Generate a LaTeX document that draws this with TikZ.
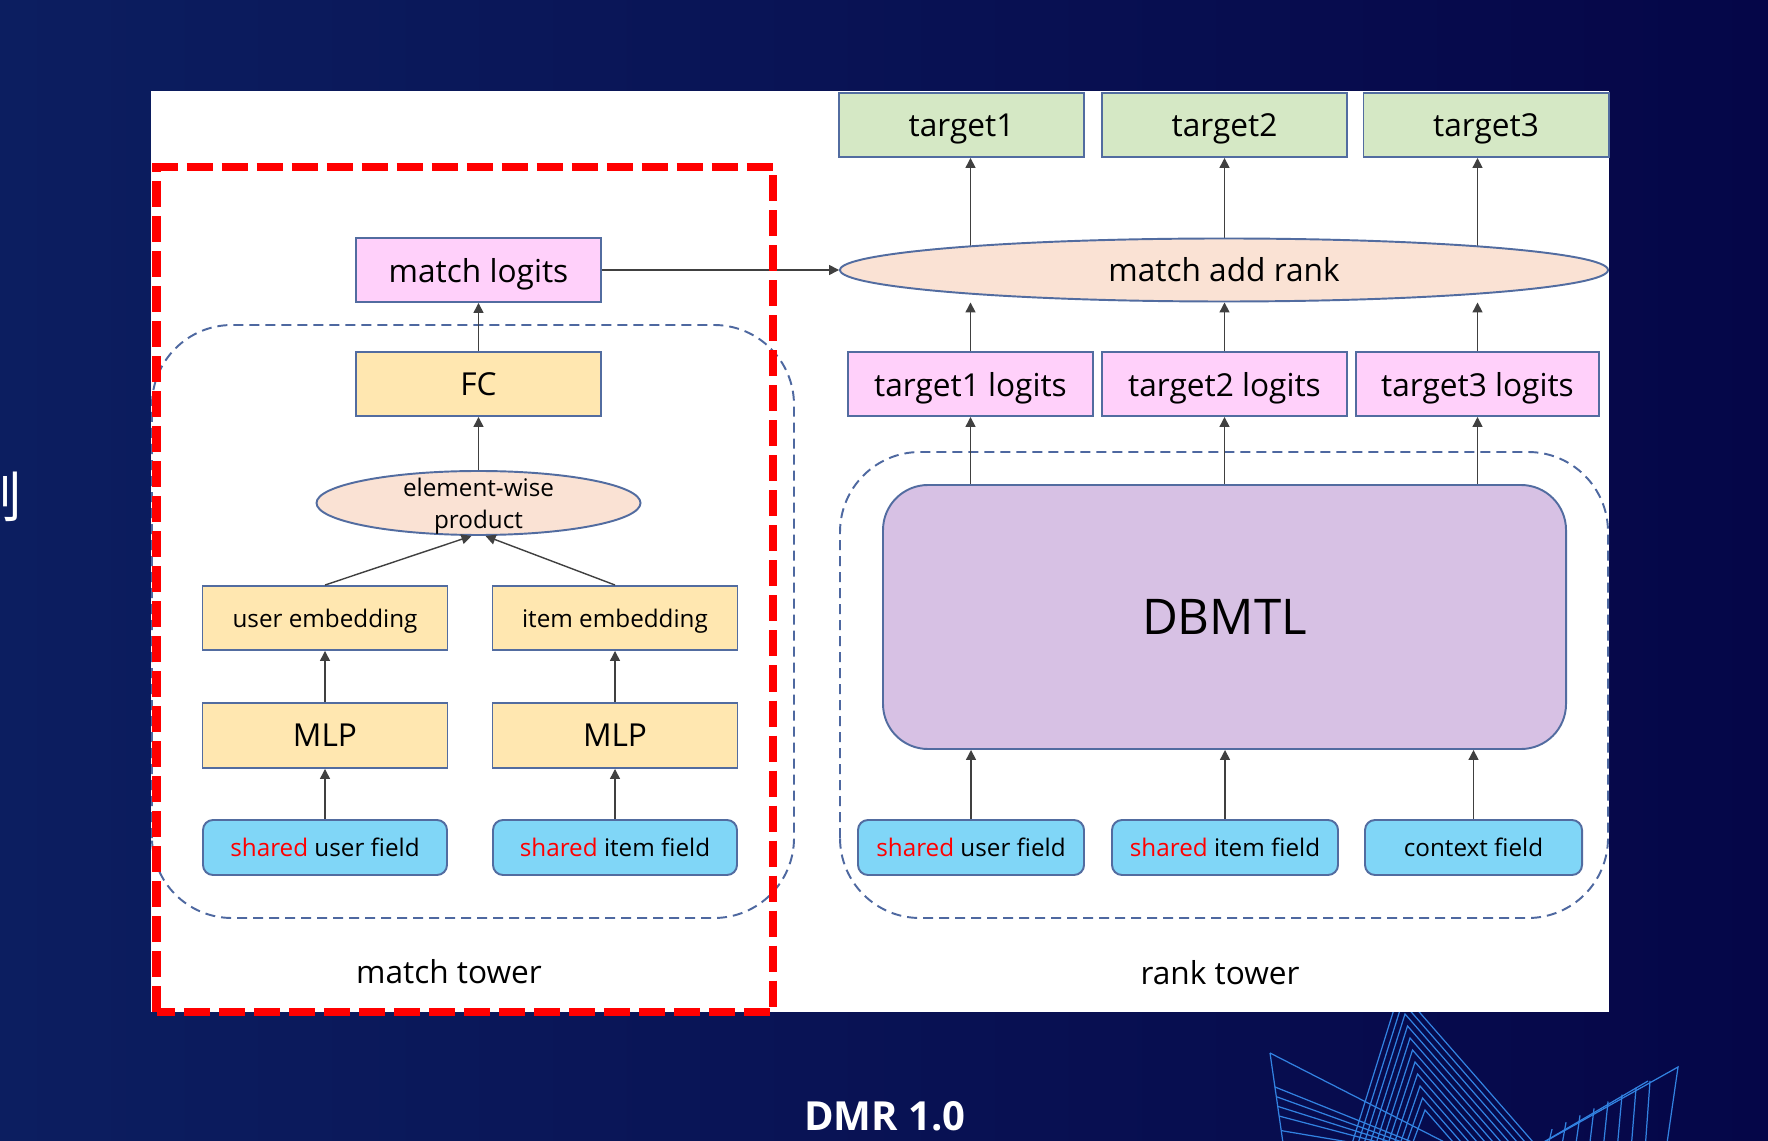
\documentclass[tikz,border=0pt]{standalone}
\usepackage{fontspec}
\setmainfont{Open Sans}
\newfontfamily\cjkfont{Noto Sans CJK SC}
\usepackage{xcolor}
\usetikzlibrary{arrows.meta,positioning,shapes.geometric,backgrounds}

\definecolor{edge}{RGB}{82,108,160}
\definecolor{pinkfill}{RGB}{255,208,250}
\definecolor{yellowfill}{RGB}{255,231,176}
\definecolor{peach}{RGB}{250,226,212}
\definecolor{greenfill}{RGB}{213,232,197}
\definecolor{bluefill}{RGB}{128,214,247}
\definecolor{lavender}{RGB}{215,193,228}
\definecolor{dashblue}{RGB}{78,104,160}
\definecolor{deco}{RGB}{50,130,225}
\definecolor{bgleft}{RGB}{12,30,96}
\definecolor{bgright}{RGB}{5,6,72}

\begin{document}
\begin{tikzpicture}[
  x=1cm,y=1cm,
  box/.style={draw=edge, line width=0.55pt, align=center, inner sep=0pt, text depth=0pt, minimum width=24.5mm, minimum height=6.4mm, font=\fontsize{9}{11}\selectfont},
  logit/.style={box, fill=pinkfill},
  dense/.style={box, fill=yellowfill},
  goal/.style={box, fill=greenfill},
  field/.style={box, fill=bluefill, rounded corners=1mm, minimum width=24.4mm, minimum height=5.5mm, font=\fontsize{6.9}{8}\selectfont},
  merge/.style={ellipse, draw=edge, line width=0.55pt, fill=peach, inner sep=0pt, minimum height=6.4mm, font=\fontsize{9}{11}\selectfont},
  tower/.style={draw=dashblue, line width=0.55pt, dash pattern=on 1mm off 0.6mm, rounded corners=8mm},
  matchframe/.style={draw=red, line width=2.3pt, dash pattern=on 2.6mm off 0.9mm},
  arrow/.style={-{Triangle[length=1mm,width=1mm]}, line width=0.4pt, draw=black!75},
  caption/.style={font=\fontsize{9}{11}\selectfont},
  decoline/.style={draw=deco, line width=0.35pt}
]
\useasboundingbox (0,0) rectangle (17.68,11.40);
\begin{scope}[on background layer]
  \fill[left color=bgleft, right color=bgright] (0,0) rectangle (17.68,11.40);
  % corner lines
  \foreach \k in {0,...,10}
    \draw[decoline] ({13.50+0.06*\k},-0.10) -- ({14.00+0.025*\k},{1.50-0.12*\k}) -- ({15.40-0.08*\k},-0.10);
  \draw[decoline] (12.84,-0.10) -- (12.70,0.87);
  \foreach \t in {0,0.35,0.45,0.55,0.65,0.8}
    \draw[decoline] ({12.70+0.14*\t},{0.87-0.97*\t}) -- ({14.60-0.8*\t},-0.10);
  \draw[decoline] (16.66,-0.10) -- (16.78,0.73) -- (15.30,-0.10);
  \draw[decoline] (16.48,0.59) -- (15.30,-0.10);
  \foreach \k in {0,...,7}
    \draw[decoline] ({16.50-0.14*\k},{0.73-(0.28+0.14*\k)*0.493}) -- ({16.45-0.14*\k},-0.10);
  \fill[white] (1.51,1.28) rectangle (16.09,10.49);
  \draw[tower] (1.52,2.22) rectangle (7.94,8.15);
  \draw[tower] (8.40,2.22) rectangle (16.08,6.88);
\end{scope}

% match tower
\node[field] (ufield) at (3.25,2.925) {\textcolor{red}{shared} user field};
\node[field] (ifield) at (6.15,2.925) {\textcolor{red}{shared} item field};
\node[dense, minimum height=6.5mm] (umlp) at (3.25,4.045) {MLP};
\node[dense, minimum height=6.5mm] (imlp) at (6.15,4.045) {MLP};
\node[dense, font=\fontsize{6.9}{8}\selectfont] (uemb) at (3.25,5.22) {user embedding};
\node[dense, font=\fontsize{6.9}{8}\selectfont] (iemb) at (6.15,5.22) {item embedding};
\node[merge, minimum width=32.4mm, label={[align=center, text depth=0pt, font=\fontsize{6.9}{9.2}\selectfont]center:{element-wise\\product}}] (prod) at (4.785,6.37) {};
\node[dense] (fc) at (4.785,7.56) {FC};
\node[logit] (mlogits) at (4.785,8.70) {match logits};
\node[caption] (mcap) at (4.49,1.68) {match tower};

% rank tower
\node[field, minimum width=22.6mm] (rufield) at (9.71,2.925) {\textcolor{red}{shared} user field};
\node[field, minimum width=22.6mm] (rifield) at (12.25,2.925) {\textcolor{red}{shared} item field};
\node[field, minimum width=21.7mm] (cfield) at (14.735,2.925) {context field};
\node[box, fill=lavender, rounded corners=4.5mm, minimum width=68.3mm, minimum height=26.4mm, font=\fontsize{14}{16}\selectfont] (dbmtl) at (12.245,5.23) {DBMTL};
\node[logit] (l1) at (9.705,7.56) {target1 logits};
\node[logit] (l2) at (12.245,7.56) {target2 logits};
\node[logit, minimum width=24.3mm] (l3) at (14.775,7.56) {target3 logits};
\node[merge, minimum width=76.8mm, minimum height=6.3mm] (rank) at (12.24,8.70) {match add rank};
\node[goal] (t1) at (9.615,10.15) {target1};
\node[goal] (t2) at (12.245,10.15) {target2};
\node[goal] (t3) at (14.86,10.15) {target3};
\node[caption] (rcap) at (12.20,1.67) {rank tower};

\node[text=white, font=\bfseries\fontsize{11.4}{13}\selectfont] (title) at (8.85,0.24) {DMR 1.0};
\node[text=white, font=\cjkfont\fontsize{15.6}{18}\selectfont] (sidechar) at (-0.065,6.43) {制};

\draw[arrow] (ufield) -- (umlp);
\draw[arrow] (ifield) -- (imlp);
\draw[arrow] (umlp) -- (uemb);
\draw[arrow] (imlp) -- (iemb);
\draw[arrow] (uemb.north) -- ([xshift=-0.7mm]prod.south);
\draw[arrow] (iemb.north) -- ([xshift=0.7mm]prod.south);
\draw[arrow] (prod) -- (fc);
\draw[arrow] (fc) -- (mlogits);
\draw[arrow] (mlogits) -- (rank);
\foreach \f/\l/\t in {rufield/l1/t1, rifield/l2/t2, cfield/l3/t3} {
  \draw[arrow] (\f.north) -- (\f.north |- dbmtl.south);
  \draw[arrow] (\l.south |- dbmtl.north) -- (\l.south);
  \draw[arrow] (\l.north) -- (\l.north |- rank.south);
}
\begin{scope}[on background layer]
  \foreach \l/\t in {l1/t1, l2/t2, l3/t3}
    \draw[arrow] (\l.north |- rank.center) -- (\l.north |- \t.south);
\end{scope}

\draw[matchframe] (1.565,1.28) rectangle (7.73,9.73);
\end{tikzpicture}
\end{document}
